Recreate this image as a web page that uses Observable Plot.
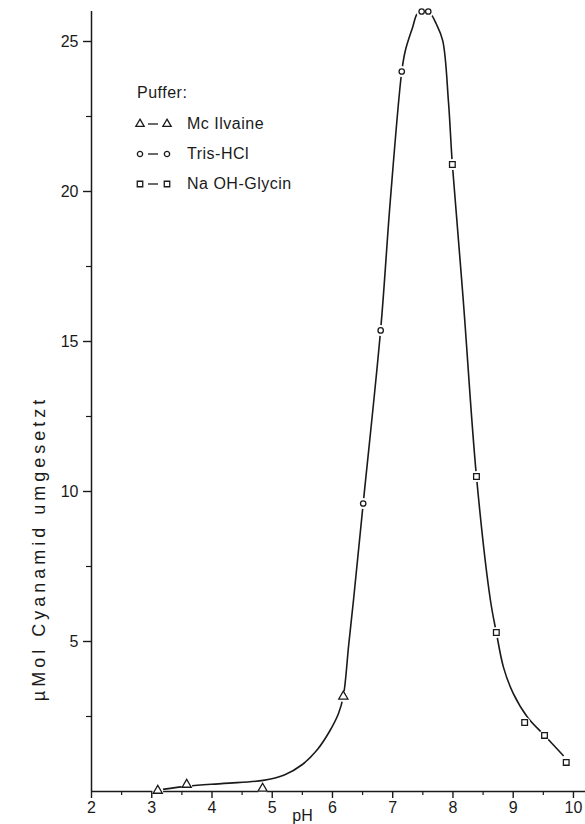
<!DOCTYPE html>
<html><head><meta charset="utf-8">
<script src="https://cdn.jsdelivr.net/npm/d3@7"></script>
<script src="https://cdn.jsdelivr.net/npm/@observablehq/plot@0.6"></script>
<style>
body{margin:0;background:#fff;}
#wrap{position:relative;width:585px;height:824px;}
#legend{position:absolute;left:0;top:0;font-family:"Liberation Sans",sans-serif;font-size:16px;color:#1a1a1a;letter-spacing:0.5px;}
#legend .row{position:absolute;white-space:nowrap;line-height:18px;}
#legend svg{position:absolute;overflow:visible;}
</style></head><body>
<div id="wrap"><div id="chart"></div><div id="legend"></div></div>
<script>
// ---- data ----
const mcIlvainePH  = [3.10, 3.58, 4.84, 6.18];
const mcIlvaineVal = [0.03, 0.23, 0.10, 3.17];
const trisPH  = [6.51, 6.80, 7.15, 7.48, 7.59];
const trisVal = [9.6, 15.37, 24.0, 26.0, 26.0];
const glycinPH  = [7.99, 8.39, 8.72, 9.19, 9.52, 9.88];
const glycinVal = [20.9, 10.5, 5.3, 2.3, 1.87, 0.97];
// hand-drawn fitted curve, knots
const curvePH  = [3.18, 3.6, 4.2, 4.85, 5.2, 5.5, 5.75, 5.95, 6.1, 6.18, 6.27, 6.35, 6.51, 6.8, 6.96, 7.15, 7.21, 7.33, 7.41, 7.52, 7.62, 7.72, 7.83, 7.925, 7.99, 8.17, 8.39, 8.62, 8.72, 8.84, 9.0, 9.24, 9.52, 9.83];
const curveVal = [0.07, 0.18, 0.27, 0.37, 0.55, 0.9, 1.4, 2.0, 2.6, 3.17, 4.9, 6.4, 9.6, 15.4, 19.7, 24.0, 24.7, 25.47, 25.93, 26.05, 25.95, 25.6, 25.03, 23.0, 20.9, 16.4, 10.5, 6.4, 5.3, 4.13, 3.27, 2.47, 1.87, 1.2];
const xTicks = [2, 3, 4, 5, 6, 7, 8, 9, 10];
const xMinor = [2.5, 3.5, 4.5, 5.5, 6.5, 7.5, 8.5, 9.5];
const yTicks = [5, 10, 15, 20, 25];
const yMinor = [2.5, 7.5, 12.5, 17.5, 22.5];
const xLabel = "pH";
const yLabel = "µMol Cyanamid umgesetzt";
const legendTitle = "Puffer:";
const legendLabels = ["Mc Ilvaine", "Tris-HCl", "Na OH-Glycin"];
const legendSymbols = ["triangle", "circle", "square"];

const toPts = (xs, ys) => xs.map((x, i) => ({x, y: ys[i]}));
const tri = toPts(mcIlvainePH, mcIlvaineVal);
const cir = toPts(trisPH, trisVal);
const sq = toPts(glycinPH, glycinVal);
const all = [...tri, ...cir, ...sq];
const curve = toPts(curvePH, curveVal);
const ink = "#1a1a1a";
const font = "Liberation Sans, sans-serif";

const plot = Plot.plot({
  width: 585, height: 824,
  marginLeft: 91, marginRight: 0, marginTop: 11, marginBottom: 33,
  style: {fontFamily: font, fontSize: "16px", color: ink, background: "white"},
  x: {domain: [2, 10.2]},
  y: {domain: [0, 26]},
  marks: [
    Plot.ruleY([0], {x1: 2, x2: 10.2, stroke: ink, strokeWidth: 1.5}),
    Plot.ruleX([2], {y1: 0, y2: 26, stroke: ink, strokeWidth: 1.5}),
    Plot.axisX({ticks: xTicks, tickSize: 7, tickPadding: 3, label: null, strokeWidth: 1.4}),
    Plot.axisX({ticks: xMinor, tickSize: 4, text: null, label: null, strokeWidth: 1.2}),
    Plot.axisY({ticks: yTicks, tickSize: 8, tickPadding: 5, label: null, strokeWidth: 1.4}),
    Plot.axisY({ticks: yMinor, tickSize: 5, text: null, label: null, strokeWidth: 1.2}),
    Plot.line(curve, {x: "x", y: "y", curve: "catmull-rom", stroke: ink, strokeWidth: 1.6}),
    Plot.dot(all, {x: "x", y: "y", r: 5.5, fill: "white", stroke: null}),
    Plot.dot(tri, {x: "x", y: "y", symbol: "triangle", r: 3.4, fill: "white", stroke: ink, strokeWidth: 1.3}),
    Plot.dot(cir, {x: "x", y: "y", symbol: "circle", r: 2.7, fill: "white", stroke: ink, strokeWidth: 1.3}),
    Plot.dot(sq, {x: "x", y: "y", symbol: "square", r: 3.2, fill: "white", stroke: ink, strokeWidth: 1.3}),
    Plot.text([xLabel], {frameAnchor: "bottom-left", dx: 211, dy: 24, textAnchor: "middle", lineAnchor: "middle", fontSize: 16, fill: ink}),
    Plot.text([yLabel], {frameAnchor: "left", dx: -52, dy: 147, rotate: -90, textAnchor: "middle", lineAnchor: "middle", fontSize: 18, fill: ink})
  ]
});
d3.select(plot).selectAll("text").filter(function() { return this.textContent === yLabel; })
  .style("letter-spacing", "4px");
document.getElementById("chart").append(plot);

// legend (inside plot area, top-left)
const lg = document.getElementById("legend");
const title = document.createElement("div");
title.className = "row"; title.style.left = "137px"; title.style.top = "84px";
title.textContent = legendTitle;
lg.append(title);
const rowY = [124, 154, 184];
const symType = {triangle: d3.symbolTriangle, circle: d3.symbolCircle, square: d3.symbolSquare};
legendLabels.forEach((lab, i) => {
  const s = legendSymbols[i];
  const sym = d3.symbol(symType[s], s === "circle" ? 22 : 30)();
  const svg = d3.create("svg").attr("width", 40).attr("height", 12)
    .style("left", "134px").style("top", (rowY[i] - 6) + "px");
  svg.append("line").attr("x1", 14).attr("x2", 24).attr("y1", 6).attr("y2", 6).attr("stroke", ink).attr("stroke-width", 1.3);
  [6, 33].forEach(cx => svg.append("path").attr("d", sym).attr("transform", `translate(${cx},6)`).attr("fill", "white").attr("stroke", ink).attr("stroke-width", 1.3));
  lg.append(svg.node());
  const t = document.createElement("div");
  t.className = "row"; t.style.left = "187px"; t.style.top = (rowY[i] - 9) + "px";
  t.textContent = lab;
  lg.append(t);
});
</script>
</body></html>
